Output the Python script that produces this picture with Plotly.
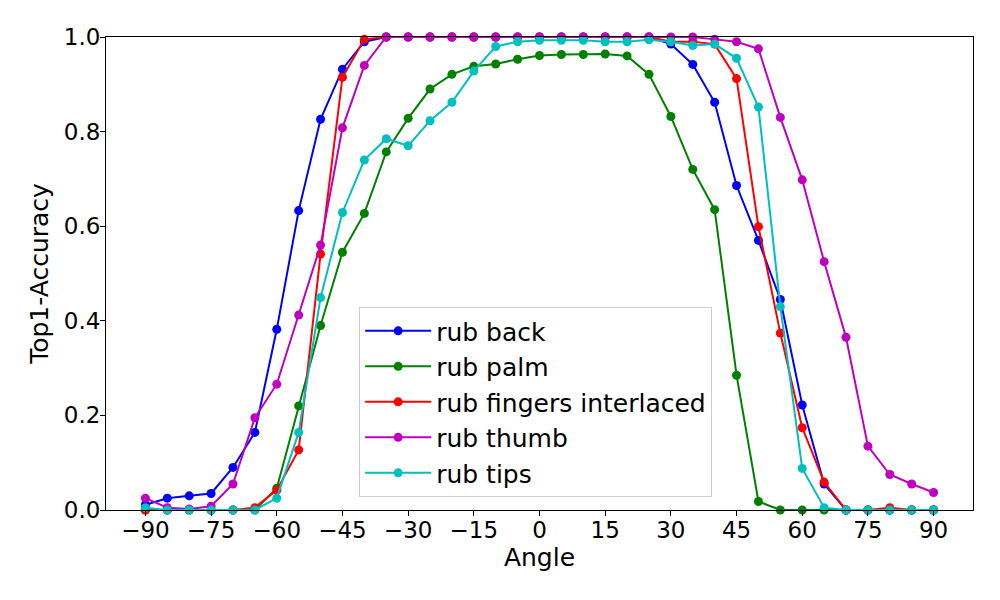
import plotly.graph_objects as go

angles = list(range(-90, 91, 5))

rub_back = [0.011, 0.025, 0.030, 0.035, 0.090, 0.164, 0.382, 0.633, 0.826, 0.932, 0.990, 1.0,
            1.0, 1.0, 1.0, 1.0, 1.0, 1.0, 1.0, 1.0, 1.0, 1.0, 1.0, 1.0, 0.985, 0.942, 0.862,
            0.686, 0.570, 0.445, 0.222, 0.055, 0.0, 0.0, 0.0, 0.0, 0.0]
rub_palm = [0.0, 0.0, 0.0, 0.0, 0.0, 0.0, 0.046, 0.220, 0.390, 0.545, 0.627, 0.757,
            0.828, 0.890, 0.921, 0.938, 0.943, 0.953, 0.961, 0.963, 0.963, 0.964, 0.960, 0.921,
            0.832, 0.720, 0.635, 0.285, 0.018, 0.0, 0.0, 0.0, 0.0, 0.0, 0.0, 0.0, 0.0]
rub_fingers = [0.0, 0.0, 0.0, 0.0, 0.0, 0.005, 0.042, 0.127, 0.541, 0.915, 0.995, 1.0,
               1.0, 1.0, 1.0, 1.0, 1.0, 1.0, 1.0, 1.0, 1.0, 1.0, 1.0, 1.0, 0.99, 0.99, 0.985,
               0.912, 0.599, 0.374, 0.174, 0.059, 0.0, 0.0, 0.005, 0.0, 0.0]
rub_thumb = [0.025, 0.005, 0.002, 0.008, 0.055, 0.195, 0.266, 0.412, 0.560, 0.808, 0.940, 1.0,
             1.0, 1.0, 1.0, 1.0, 1.0, 1.0, 1.0, 1.0, 1.0, 1.0, 1.0, 1.0, 1.0, 1.0, 0.995,
             0.990, 0.975, 0.830, 0.698, 0.525, 0.365, 0.135, 0.075, 0.055, 0.037]
rub_tips = [0.005, 0.0, 0.0, 0.0, 0.0, 0.0, 0.025, 0.164, 0.449, 0.629, 0.740, 0.785,
            0.770, 0.823, 0.862, 0.928, 0.980, 0.990, 0.993, 0.993, 0.993, 0.990, 0.990, 0.994,
            0.990, 0.982, 0.985, 0.955, 0.852, 0.430, 0.088, 0.005, 0.0, 0.0, 0.0, 0.0, 0.0]

series = [
    ("rub back", rub_back, "#0000ff"),
    ("rub palm", rub_palm, "#008000"),
    ("rub fingers interlaced", rub_fingers, "#ff0000"),
    ("rub thumb", rub_thumb, "#bf00bf"),
    ("rub tips", rub_tips, "#00bfbf"),
]

x_ticks = list(range(-90, 91, 15))
y_ticks = [0.0, 0.2, 0.4, 0.6, 0.8, 1.0]

fig = go.Figure()
for name, vals, color in series:
    fig.add_trace(go.Scatter(
        x=angles, y=vals, name=name, mode="lines+markers",
        line=dict(color=color, width=2),
        marker=dict(color=color, size=9),
        cliponaxis=False,
    ))

font_family = "DejaVu Sans"
fig.update_layout(
    width=1000, height=600,
    margin=dict(l=98, r=35, t=29, b=98, autoexpand=False),
    paper_bgcolor="white", plot_bgcolor="white",
    font=dict(family=font_family, color="black", size=23),
    showlegend=True,
    legend=dict(
        x=0.292, y=0.429, xanchor="left", yanchor="top",
        bgcolor="rgba(255,255,255,0.8)", bordercolor="#cccccc", borderwidth=1,
        font=dict(family=font_family, size=25, color="black"),
        itemwidth=66,
    ),
)
fig.update_xaxes(
    range=[-99, 99], tickvals=x_ticks, ticks="outside", ticklen=5, tickwidth=1,
    tickcolor="black", showline=True, linecolor="black", linewidth=1, mirror=True,
    showgrid=False, zeroline=False, automargin=False,
    tickfont=dict(size=23), ticklabelstandoff=-6,
    title=dict(text="Angle", font=dict(size=25), standoff=6),
)
fig.update_yaxes(
    range=[0, 1], tickvals=y_ticks, tickformat=".1f", ticks="outside", ticklen=5, tickwidth=1,
    tickcolor="black", showline=True, linecolor="black", linewidth=1, mirror=True,
    showgrid=False, zeroline=False, automargin=False,
    tickfont=dict(size=23), ticklabelstandoff=-5,
    title=dict(text="Top1-Accuracy", font=dict(size=25), standoff=8),
)

fig.write_html("out.html")
